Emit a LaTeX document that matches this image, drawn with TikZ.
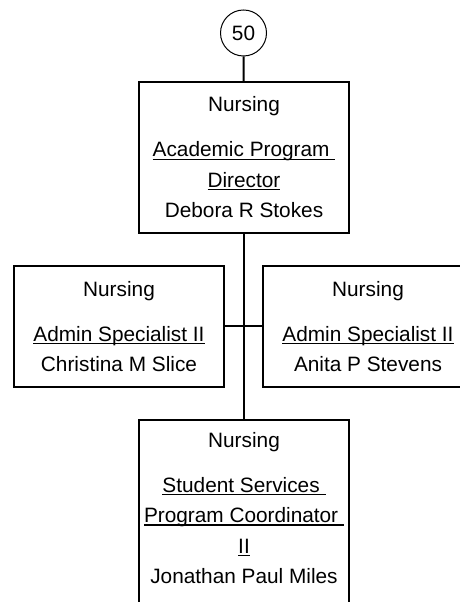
\documentclass[tikz,border=0pt]{standalone}
\usepackage{fontspec}
\setmainfont{Liberation Sans}
\usepackage{tikz}
\newcommand{\ulined}[1]{\setbox0=\hbox{#1}\rlap{\rule[-3pt]{\wd0}{1.3pt}}\box0}

\begin{document}
\begin{tikzpicture}[x=1pt,y=1pt,every node/.style={font=\fontsize{20.8pt}{30.5pt}\selectfont},
  post/.style={draw,line width=1.4pt,rectangle,minimum width=210pt,align=center,inner sep=0pt},
  link/.style={line width=2pt}]
\useasboundingbox (0,0) rectangle (460,602);
\clip (0,0) rectangle (460,602);
\node[draw,line width=1pt,circle,minimum size=46pt,inner sep=0pt] (num) at (243.5,569) {50};
\node[post,minimum height=151pt] (dir) at (244,444.5) {Nursing\\[14.5pt]\ulined{Academic Program\ }\\\ulined{Director}\\Debora R Stokes};
\node[post,minimum height=121pt] (adminL) at (119,275.5) {Nursing\\[14.5pt]\ulined{Admin Specialist II}\\Christina M Slice};
\node[post,minimum height=121pt] (adminR) at (368,275.5) {Nursing\\[14.5pt]\ulined{Admin Specialist II}\\Anita P Stevens};
\node[post,minimum height=190pt] (stu) at (244,87) {Nursing\\[14.5pt]\ulined{Student Services\ }\\\ulined{Program Coordinator\ }\\\ulined{II}\\Jonathan Paul Miles\\[-16pt]\mbox{}};
\draw[link] (num) -- (dir);
\draw[link] (dir) -- (stu);
\draw[link] (adminL) -- (adminR);
\end{tikzpicture}
\end{document}
